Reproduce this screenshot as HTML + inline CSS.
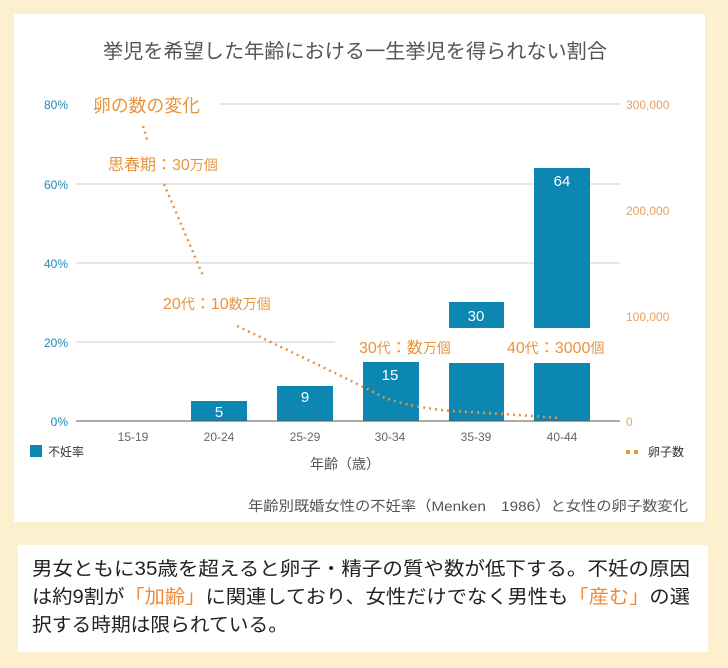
<!DOCTYPE html>
<html><head><meta charset="utf-8"><style>
body{margin:0;width:728px;height:668px;background:#fdf0cf;font-family:"Liberation Sans","Noto Sans CJK JP",sans-serif;position:relative;overflow:hidden}
.a{position:absolute;white-space:nowrap}
</style></head><body>
<div class="a" style="left:14px;top:14px;width:691px;height:508px;background:#fff"></div>
<div class="a" style="left:18px;top:545px;width:690px;height:107px;background:#fff"></div>
<svg class="a" style="left:0;top:0" width="728" height="668" font-family="Liberation Sans, Noto Sans CJK JP, sans-serif">
<text x="103" y="58" font-size="20" fill="#555" textLength="504" lengthAdjust="spacingAndGlyphs">挙児を希望した年齢における一生挙児を得られない割合</text>
<g stroke="#ccc" stroke-width="1">
<line x1="220" y1="104" x2="620" y2="104"/>
<line x1="76" y1="184" x2="620" y2="184"/>
<line x1="76" y1="263" x2="620" y2="263"/>
<line x1="76" y1="342" x2="335" y2="342"/>
</g>
<g font-size="12" fill="#1a8ab5" text-anchor="end">
<text x="68" y="109">80%</text><text x="68" y="189">60%</text><text x="68" y="268">40%</text><text x="68" y="347">20%</text><text x="68" y="426">0%</text>
</g>
<g font-size="12" fill="#e8a060">
<text x="626" y="109">300,000</text><text x="626" y="215">200,000</text><text x="626" y="321">100,000</text><text x="626" y="426">0</text>
</g>
<g fill="#0c87b2">
<rect x="191" y="401" width="56" height="20"/>
<rect x="277" y="386" width="56" height="35"/>
<rect x="363" y="362" width="56" height="59"/>
<rect x="449" y="302" width="55" height="26"/><rect x="449" y="363" width="55" height="58"/>
<rect x="534" y="168" width="56" height="160"/><rect x="534" y="363" width="56" height="58"/>
</g>
<line x1="76" y1="421" x2="620" y2="421" stroke="#555" stroke-width="1"/>
<g font-size="15" fill="#fff" text-anchor="middle">
<text x="219" y="417">5</text><text x="305" y="402">9</text><text x="390" y="380">15</text><text x="476" y="321">30</text><text x="562" y="186">64</text>
</g>
<g stroke="#e8943a" stroke-width="2.5" stroke-dasharray="2,4" fill="none">
<path d="M143 126 L148 143"/>
<path d="M164 184 L204 278"/>
<path d="M237 326 Q330 370 385 398 Q420 410 470 412 Q520 415 560 418"/>
</g>
<g font-size="12" fill="#666" text-anchor="middle">
<text x="133" y="441">15-19</text><text x="219" y="441">20-24</text><text x="305" y="441">25-29</text><text x="390" y="441">30-34</text><text x="476" y="441">35-39</text><text x="562" y="441">40-44</text>
</g>
<text x="345" y="469" font-size="14" fill="#555" text-anchor="middle">年齢（歳）</text>
<rect x="30" y="445" width="12" height="12" fill="#0c87b2"/>
<text x="48" y="456" font-size="12" fill="#333">不妊率</text>
<rect x="626" y="450" width="4" height="4" fill="#e8943a"/><rect x="634" y="450" width="4" height="4" fill="#e8943a"/>
<text x="648" y="456" font-size="12" fill="#333">卵子数</text>
<g fill="#e8943a">
<text x="93" y="112" font-size="18" textLength="107" lengthAdjust="spacingAndGlyphs">卵の数の変化</text>
<text x="108" y="170" font-size="16">思春期：30<tspan font-size="14">万個</tspan></text>
<text x="163" y="309" font-size="16">20<tspan font-size="14">代</tspan>：10<tspan font-size="14">数万個</tspan></text>
<text x="359" y="353" font-size="16">30<tspan font-size="14">代</tspan>：数<tspan font-size="14">万個</tspan></text>
<text x="507" y="353" font-size="16">40<tspan font-size="14">代</tspan>：3000<tspan font-size="14">個</tspan></text>
</g>
<text x="248" y="511" font-size="14" fill="#555" textLength="440" lengthAdjust="spacingAndGlyphs">年齢別既婚女性の不妊率（Menken　1986）と女性の卵子数変化</text>
<g font-size="19" fill="#222">
<text x="32" y="575" textLength="658" lengthAdjust="spacingAndGlyphs">男女ともに35歳を超えると卵子・精子の質や数が低下する。不妊の原因</text>
<text x="32" y="603" textLength="658" lengthAdjust="spacingAndGlyphs">は約9割が<tspan fill="#ef8a3a">「加齢」</tspan>に関連しており、女性だけでなく男性も<tspan fill="#ef8a3a">「産む」</tspan>の選</text>
<text x="32" y="631" textLength="256" lengthAdjust="spacingAndGlyphs">択する時期は限られている。</text>
</g>
</svg>
</body></html>
